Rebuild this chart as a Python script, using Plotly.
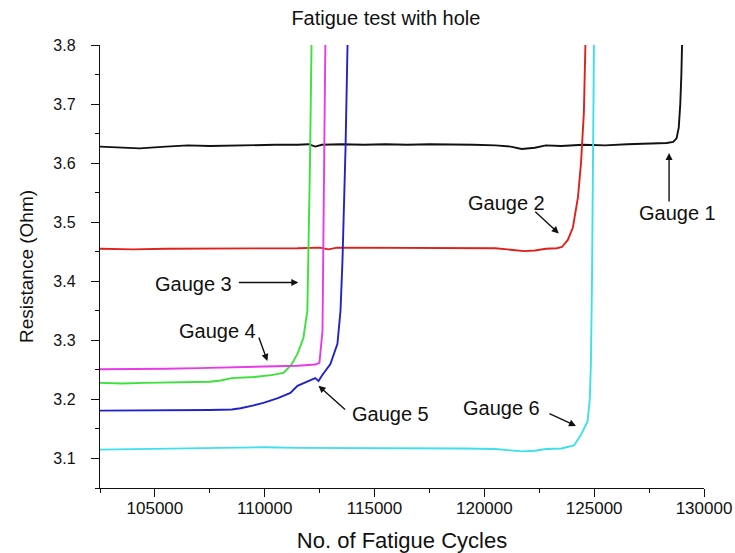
import plotly.graph_objects as go

# ---- data ----
g1_x = [102500, 103500, 104300, 105500, 106500, 107500, 108500, 109500, 110500, 111500, 112000, 112300,
        112600, 113500, 114500, 115500, 116500, 117500, 118500, 119500, 120500, 121200, 121700, 122300,
        122800, 123500, 124500, 125500, 126500, 127500, 128300, 128600, 128750, 128850, 128920, 128970, 129000]
g1_y = [3.628, 3.627, 3.625, 3.628, 3.630, 3.629, 3.630, 3.630, 3.631, 3.631, 3.632, 3.628,
        3.631, 3.632, 3.631, 3.632, 3.631, 3.632, 3.632, 3.631, 3.630, 3.628, 3.624, 3.626,
        3.630, 3.629, 3.631, 3.630, 3.632, 3.633, 3.634, 3.636, 3.642, 3.660, 3.700, 3.750, 3.800]

g2_x = [102500, 104000, 105500, 107000, 108500, 110000, 111500, 112500, 112900, 113300, 114500, 116000,
        117500, 119000, 120500, 121300, 121800, 122300, 122800, 123300, 123530, 123800, 124030, 124260,
        124400, 124530, 124600]
g2_y = [3.455, 3.454, 3.455, 3.455, 3.456, 3.456, 3.456, 3.457, 3.454, 3.457, 3.457, 3.456,
        3.457, 3.456, 3.456, 3.453, 3.451, 3.452, 3.455, 3.456, 3.458, 3.470, 3.491, 3.542,
        3.600, 3.685, 3.800]

g3_x = [102500, 103500, 104500, 105500, 106500, 107500, 108000, 108500, 109500, 110300, 110850, 111200,
        111490, 111760, 111940, 111990, 112060, 112130]
g3_y = [3.228, 3.227, 3.228, 3.229, 3.229, 3.230, 3.232, 3.236, 3.238, 3.241, 3.245, 3.258,
        3.277, 3.304, 3.350, 3.435, 3.600, 3.800]

g4_x = [102500, 104000, 105500, 107000, 108500, 110000, 111500, 112300, 112490, 112630, 112670, 112720, 112760]
g4_y = [3.251, 3.251, 3.252, 3.253, 3.254, 3.255, 3.257, 3.259, 3.262, 3.316, 3.430, 3.656, 3.800]

g5_x = [102500, 103500, 104500, 105500, 106500, 107500, 108500, 108900, 109500, 109940, 110600, 111170,
        111490, 112000, 112300, 112450, 112600, 112990, 113310, 113450, 113540, 113680, 113770]
g5_y = [3.181, 3.181, 3.182, 3.181, 3.182, 3.182, 3.183, 3.185, 3.190, 3.194, 3.202, 3.211,
        3.223, 3.232, 3.236, 3.231, 3.240, 3.260, 3.294, 3.350, 3.435, 3.627, 3.800]

g6_x = [102500, 104000, 105500, 107000, 108500, 110000, 111500, 113000, 114500, 116000, 117500, 119000,
        120500, 121200, 121700, 122300, 122800, 123500, 124080, 124400, 124700, 124800, 124850, 124900,
        124950, 124990]
g6_y = [3.115, 3.116, 3.116, 3.117, 3.118, 3.119, 3.118, 3.118, 3.118, 3.117, 3.117, 3.117,
        3.116, 3.114, 3.112, 3.113, 3.116, 3.117, 3.122, 3.140, 3.163, 3.200, 3.260, 3.400,
        3.600, 3.800]

series = [
    ("Gauge 1", g1_x, g1_y, "#111111"),
    ("Gauge 2", g2_x, g2_y, "#e0201a"),
    ("Gauge 3", g3_x, g3_y, "#3be23b"),
    ("Gauge 4", g4_x, g4_y, "#e83ae8"),
    ("Gauge 5", g5_x, g5_y, "#2222c8"),
    ("Gauge 6", g6_x, g6_y, "#3de0ec"),
]

# label text position, arrow head position (data), arrow tail offset (px)
labels = ["Gauge 1", "Gauge 2", "Gauge 3", "Gauge 4", "Gauge 5", "Gauge 6"]
text_x = [128780, 121020, 106740, 107840, 115730, 120790]
text_y = [3.515, 3.532, 3.396, 3.316, 3.175, 3.185]
head_x = [128410, 123390, 111530, 110120, 112450, 124170]
head_y = [3.617, 3.481, 3.398, 3.265, 3.223, 3.155]
tail_dx = [0, -25, -61, -9, 28, -28]
tail_dy = [50, -23, 0, -25, 25, -13]

FONT = "Liberation Sans, Arial, sans-serif"
INK = "#111111"

fig = go.Figure()
for name, xs, ys, col in series:
    fig.add_trace(go.Scatter(x=xs, y=ys, mode="lines", name=name,
                             line=dict(color=col, width=1.9), showlegend=False))

for i, lab in enumerate(labels):
    fig.add_annotation(x=text_x[i], y=text_y[i], text=lab, showarrow=False,
                       font=dict(family=FONT, size=20, color=INK))
    fig.add_annotation(x=head_x[i], y=head_y[i], text="", showarrow=True,
                       ax=tail_dx[i], ay=tail_dy[i], arrowhead=2, arrowsize=1,
                       arrowwidth=1.4, arrowcolor=INK)

axis_common = dict(showline=True, linecolor=INK, linewidth=1.4, ticks="outside",
                   ticklen=8, tickwidth=1.4, tickcolor=INK, showgrid=False, zeroline=False,
                   mirror=False, automargin=False)

fig.update_layout(
    width=735, height=553,
    margin=dict(l=100, r=31, t=45, b=65),
    paper_bgcolor="white", plot_bgcolor="white",
    title=dict(text="Fatigue test with hole", x=0.525, xanchor="center", y=0.967, yanchor="middle",
               font=dict(family=FONT, size=20, color=INK)),
    xaxis=dict(range=[102500, 130000], tickvals=[105000, 110000, 115000, 120000, 125000, 130000],
               ticktext=["105000", "110000", "115000", "120000", "125000", "130000"],
               tickfont=dict(family=FONT, size=17, color=INK),
               ticklabelstandoff=-4,
               minor=dict(dtick=2500, tick0=0, ticks="outside", ticklen=4, tickwidth=1.4, tickcolor=INK),
               title=dict(text="No. of Fatigue Cycles", font=dict(family=FONT, size=22, color=INK), standoff=16),
               **axis_common),
    yaxis=dict(range=[3.05, 3.8], tickvals=[3.1, 3.2, 3.3, 3.4, 3.5, 3.6, 3.7, 3.8],
               ticktext=["3.1", "3.2", "3.3", "3.4", "3.5", "3.6", "3.7", "3.8"],
               tickfont=dict(family=FONT, size=16, color=INK),
               ticklabelstandoff=12,
               minor=dict(dtick=0.05, tick0=0, ticks="outside", ticklen=4, tickwidth=1.4, tickcolor=INK),
               title=dict(text="Resistance (Ohm)", font=dict(family=FONT, size=19, color=INK), standoff=14),
               **axis_common),
)

fig.write_html("out.html")
